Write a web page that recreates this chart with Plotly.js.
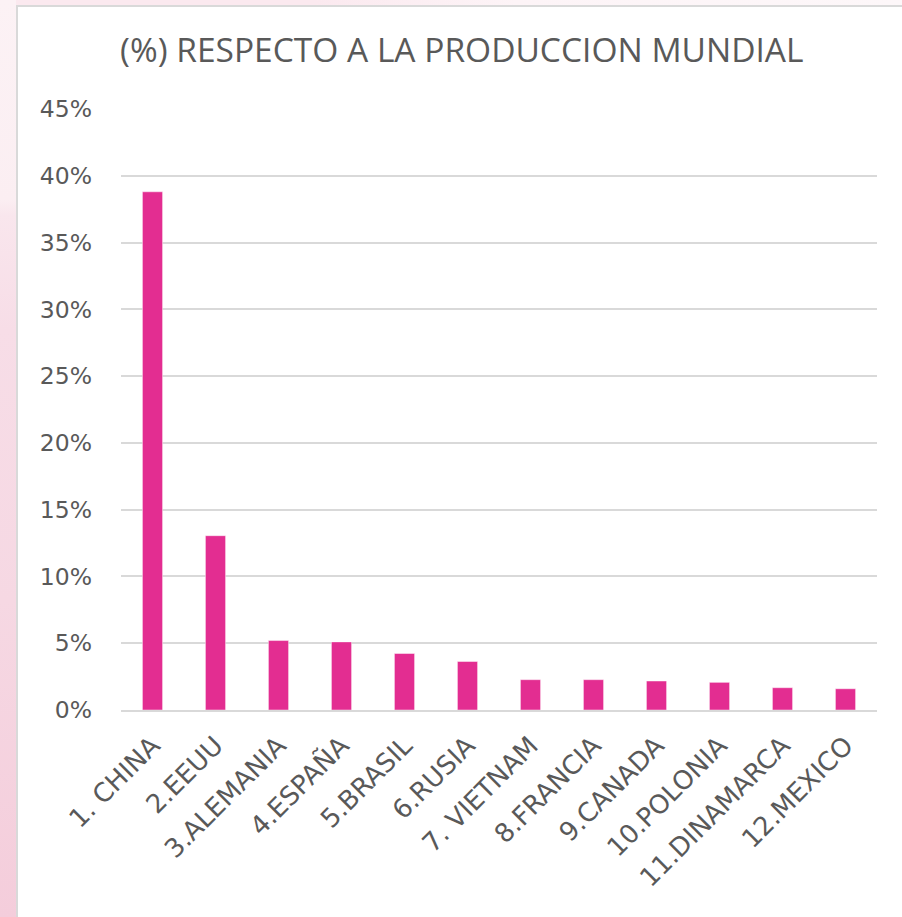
<!DOCTYPE html>
<html>
<head>
<meta charset="utf-8">
<script src="https://cdn.plot.ly/plotly-3.0.1.min.js"></script>
<style>
  html, body { margin: 0; padding: 0; width: 902px; height: 917px; overflow: hidden; background: #fdf3f6; }
  #strip { position: absolute; left: 0; top: 0; width: 16px; height: 917px;
    background: linear-gradient(to bottom, #fcf2f5 0px, #fbeef2 200px, #f9e6ed 215px, #f7dde7 330px, #f6d8e3 600px, #f4cddb 917px); }
  #topband { position: absolute; left: 16px; top: 0; width: 886px; height: 5px;
    background: linear-gradient(to right, #fbe9ef 0px, #fbe9ef 300px, #fdf4f7 500px, #fdf7f9 886px); }
  #box { position: absolute; left: 16px; top: 5px; width: 900px; height: 920px; background: #ffffff;
    border-left: 2px solid #d9d9d9; border-top: 2px solid #d9d9d9; }
  #chart { position: absolute; left: 0; top: 0; width: 902px; height: 917px; }
</style>
</head>
<body>
<div id="strip"></div>
<div id="topband"></div>
<div id="box"></div>
<div id="chart"></div>
<script>
const categories = ["1. CHINA", "2.EEUU", "3.ALEMANIA", "4.ESPAÑA", "5.BRASIL", "6.RUSIA",
  "7. VIETNAM", "8.FRANCIA", "9.CANADA", "10.POLONIA", "11.DINAMARCA", "12.MEXICO"];
const sharePct = [38.8, 13.05, 5.2, 5.1, 4.23, 3.63, 2.27, 2.27, 2.17, 2.07, 1.67, 1.59];
const yTickVals = [0, 5, 10, 15, 20, 25, 30, 35, 40, 45];
const yTickLabels = ["0%", "5%", "10%", "15%", "20%", "25%", "30%", "35%", "40%", "45%"];
const titleText = "(%) RESPECTO A LA PRODUCCION MUNDIAL";

const trace = {
  type: "bar",
  x: categories,
  y: sharePct,
  marker: { color: "#e32d91", line: { color: "rgba(255,255,255,0.45)", width: 1 } },
  hoverinfo: "x+y"
};

const layout = {
  width: 902, height: 917,
  paper_bgcolor: "rgba(0,0,0,0)",
  plot_bgcolor: "rgba(0,0,0,0)",
  margin: { l: 121, r: 25, t: 109, b: 207 },
  bargap: 0.68,
  showlegend: false,
  title: {
    text: titleText,
    font: { family: "Open Sans", size: 33.5, color: "#595959" },
    x: 0.512, xanchor: "center", xref: "container",
    y: 0.9455, yanchor: "middle", yref: "container"
  },
  xaxis: {
    type: "category",
    tickangle: -45,
    tickfont: { family: "DejaVu Sans", size: 26, color: "#595959" },
    showgrid: false,
    showline: true, linecolor: "#d9d9d9", linewidth: 2,
    ticks: "", ticklabelstandoff: 8,
    fixedrange: true
  },
  yaxis: {
    range: [0, 45],
    tickmode: "array",
    tickvals: yTickVals,
    ticktext: yTickLabels,
    tickfont: { family: "DejaVu Sans", size: 23.5, color: "#595959" },
    showgrid: true, gridcolor: "#d9d9d9", gridwidth: 2,
    zeroline: false, showline: false,
    ticks: "", ticklabelstandoff: 28,
    fixedrange: true
  }
};

Plotly.newPlot("chart", [trace], layout, { displayModeBar: false, staticPlot: true });
</script>
</body>
</html>
